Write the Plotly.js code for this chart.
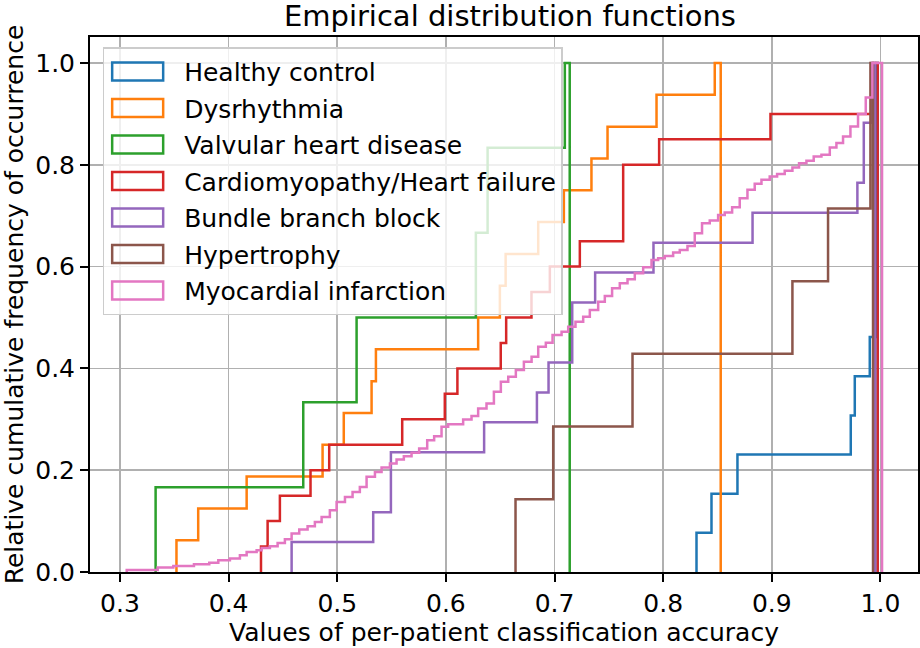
<!DOCTYPE html>
<html>
<head>
<meta charset="utf-8">
<script src="https://cdn.plot.ly/plotly-3.0.1.min.js"></script>
<style>
  html, body { margin: 0; padding: 0; background: #fff; }
  #chart { width: 920px; height: 648px; }
</style>
</head>
<body>
<div id="chart"></div>
<script>
// Series names (legend order)
const seriesNames = [
  "Healthy control",
  "Dysrhythmia",
  "Valvular heart disease",
  "Cardiomyopathy/Heart failure",
  "Bundle branch block",
  "Hypertrophy",
  "Myocardial infarction"
];

// Each series: step edges (x where cumulative level changes), levels after each edge, last edge
const healthyX = [0.8307, 0.8445, 0.8684, 0.9727, 0.9764, 0.9902, 0.9963];
const healthyY = [0.0769, 0.1538, 0.2308, 0.3077, 0.3846, 0.4615, 1.0];
const healthyEnd = 0.9975;

const dysX = [0.352, 0.372, 0.4166, 0.4865, 0.506, 0.5316, 0.5356, 0.6297, 0.6497, 0.655, 0.685, 0.7086, 0.734, 0.7488, 0.7939, 0.8475];
const dysY = [0.0625, 0.125, 0.1875, 0.25, 0.3125, 0.375, 0.4375, 0.5, 0.5625, 0.625, 0.6875, 0.75, 0.8125, 0.875, 0.9375, 1.0];
const dysEnd = 0.853;

const valvX = [0.3328, 0.4687, 0.5178, 0.6276, 0.6384, 0.7095];
const valvY = [0.1667, 0.3333, 0.5, 0.6667, 0.8333, 1.0];
const valvEnd = 0.714;

const cardioX = [0.4298, 0.4359, 0.4472, 0.4754, 0.4926, 0.5598, 0.599, 0.6106, 0.6505, 0.6555, 0.6788, 0.6957, 0.7233, 0.7632, 0.7963, 0.8988, 0.9935];
const cardioY = [0.05, 0.1, 0.15, 0.2, 0.25, 0.3, 0.35, 0.4, 0.45, 0.5, 0.55, 0.6, 0.65, 0.8, 0.85, 0.9, 1.0];
const cardioEnd = 0.9975;

const bbbX = [0.458, 0.5331, 0.5494, 0.6352, 0.6838, 0.6945, 0.7163, 0.7374, 0.7911, 0.8823, 0.9788, 0.9847, 0.9917];
const bbbY = [0.0588, 0.1176, 0.2353, 0.2941, 0.3529, 0.4118, 0.5294, 0.5882, 0.6471, 0.7059, 0.7647, 0.8824, 1.0];
const bbbEnd = 0.995;

const hyperX = [0.6641, 0.6988, 0.7718, 0.919, 0.9518, 0.9908];
const hyperY = [0.1429, 0.2857, 0.4286, 0.5714, 0.7143, 1.0];
const hyperEnd = 0.9932;

const miX = [0.3062, 0.3347, 0.3491, 0.3681, 0.3822, 0.3905, 0.4012, 0.4104, 0.4166, 0.4258,
  0.4304, 0.438, 0.4451, 0.4518, 0.458, 0.465, 0.4727, 0.4794, 0.4856, 0.4932,
  0.4994, 0.5071, 0.5141, 0.5208, 0.527, 0.5347, 0.5408, 0.5485, 0.5546, 0.5613,
  0.5684, 0.5754, 0.5828, 0.5892, 0.596, 0.6021, 0.6159, 0.6236, 0.6297, 0.6374,
  0.6442, 0.6506, 0.6574, 0.6644, 0.6718, 0.6789, 0.685, 0.692, 0.6982, 0.7065,
  0.7126, 0.7193, 0.7264, 0.7325, 0.7402, 0.7463, 0.753, 0.7601, 0.7672, 0.7739,
  0.7816, 0.7893, 0.7954, 0.8015, 0.8092, 0.8153, 0.8224, 0.8291, 0.8358, 0.8429,
  0.8506, 0.8567, 0.8635, 0.8705, 0.8776, 0.8843, 0.8905, 0.8981, 0.9049, 0.9119,
  0.919, 0.9251, 0.9319, 0.9386, 0.9457, 0.9534, 0.9595, 0.9656, 0.9724, 0.9794,
  0.9865, 0.9926];
const miY = [0.004, 0.0086, 0.0118, 0.0151, 0.0184, 0.023, 0.0263, 0.0328, 0.0393, 0.0427,
  0.0472, 0.0506, 0.057, 0.0643, 0.0755, 0.0834, 0.0899, 0.0983, 0.1082, 0.1214,
  0.1377, 0.1475, 0.1574, 0.1672, 0.1869, 0.1967, 0.2053, 0.2132, 0.2211, 0.2276,
  0.2341, 0.2427, 0.259, 0.2669, 0.2852, 0.2905, 0.2998, 0.3063, 0.3214, 0.3312,
  0.354, 0.3737, 0.3836, 0.3967, 0.4131, 0.4229, 0.4426, 0.4504, 0.4656, 0.4721,
  0.4819, 0.4917, 0.5016, 0.5148, 0.5311, 0.5423, 0.5574, 0.5673, 0.5751, 0.5869,
  0.5987, 0.6131, 0.6164, 0.621, 0.6275, 0.6328, 0.6406, 0.6656, 0.6853, 0.6904,
  0.7016, 0.7061, 0.7167, 0.7345, 0.7508, 0.7626, 0.7705, 0.777, 0.7817, 0.7882,
  0.7947, 0.8033, 0.8078, 0.8163, 0.8196, 0.834, 0.8426, 0.8556, 0.8753, 0.8997,
  0.9323, 1.0];
const miEnd = 1.0015;

const xTicks = [0.3, 0.4, 0.5, 0.6, 0.7, 0.8, 0.9, 1.0];
const yTicks = [0.0, 0.2, 0.4, 0.6, 0.8, 1.0];

const colors = ["#1f77b4", "#ff7f0e", "#2ca02c", "#d62728", "#9467bd", "#8c564b", "#e377c2"];

const seriesData = [
  [healthyX, healthyY, healthyEnd],
  [dysX, dysY, dysEnd],
  [valvX, valvY, valvEnd],
  [cardioX, cardioY, cardioEnd],
  [bbbX, bbbY, bbbEnd],
  [hyperX, hyperY, hyperEnd],
  [miX, miY, miEnd]
];

// Build closed cumulative-histogram step outline (like matplotlib histtype='step')
function outline(xs, ys, end) {
  const X = [xs[0]].concat(xs, [end, end]);
  const Y = [0].concat(ys, [ys[ys.length - 1], 0]);
  return {X, Y};
}

const FONT = "DejaVu Sans, Liberation Sans, sans-serif";

const traces = seriesData.map((s, i) => {
  const o = outline(s[0], s[1], s[2]);
  return {
    type: "scatter",
    mode: "lines",
    x: o.X,
    y: o.Y,
    name: seriesNames[i],
    legendgroup: "g" + i,
    line: {shape: "hv", color: colors[i], width: 2.5},
    hoverinfo: "skip"
  };
});

const layout = {
  width: 920,
  height: 648,
  margin: {l: 90, r: 2, t: 37, b: 76},
  paper_bgcolor: "#fff",
  plot_bgcolor: "#fff",
  font: {family: FONT, color: "#000", size: 25},
  title: {
    text: "Empirical distribution functions",
    font: {family: FONT, size: 29, color: "#000"},
    x: 0.5543, xref: "container", xanchor: "center",
    y: 0.975, yref: "container", yanchor: "middle"
  },
  xaxis: {
    range: [0.2724, 1.0346],
    tickvals: xTicks,
    ticktext: xTicks.map(v => v.toFixed(1)),
    ticks: "outside", ticklen: 8, tickwidth: 2, tickcolor: "#000",
    showgrid: true, gridcolor: "#b0b0b0", gridwidth: 1.7,
    showline: true, linecolor: "#000", linewidth: 2, mirror: true,
    zeroline: false,
    tickfont: {family: FONT, size: 25, color: "#000"},
    title: {text: "Values of per-patient classification accuracy", font: {family: FONT, size: 25, color: "#000"}, standoff: 4},
    automargin: false
  },
  yaxis: {
    range: [0, 1.0511],
    tickvals: yTicks,
    ticktext: yTicks.map(v => v.toFixed(1)),
    ticks: "outside", ticklen: 8, tickwidth: 2, tickcolor: "#000",
    showgrid: true, gridcolor: "#b0b0b0", gridwidth: 1.7,
    showline: true, linecolor: "#000", linewidth: 2, mirror: true,
    zeroline: false,
    tickfont: {family: FONT, size: 25, color: "#000"},
    title: {text: "Relative cumulative frequency of occurrence", font: {family: FONT, size: 25, color: "#000"}, standoff: 4},
    automargin: false
  },
  showlegend: true,
  legend: {
    x: 0.0153, y: 0.981, xanchor: "left", yanchor: "top",
    bgcolor: "rgba(255,255,255,0.8)",
    bordercolor: "#cccccc", borderwidth: 1.5,
    font: {family: FONT, size: 25, color: "#000"},
    itemwidth: 70,
    traceorder: "grouped",
    tracegroupgap: 1
  }
};

Plotly.newPlot("chart", traces, layout, {displayModeBar: false, staticPlot: true}).then(function (gd) {
  // Draw patch-like rectangle legend symbols (matching histogram step legend handles)
  const items = gd.querySelectorAll(".legend .traces");
  items.forEach(function (it) {
    const p = it.querySelector("path.js-line");
    if (p) {
      p.setAttribute("d", "M8,-9h51v18h-51z");
      p.style.fill = "none";
      p.style.strokeWidth = "2.5px";
    }
  });
});
</script>
</body>
</html>
